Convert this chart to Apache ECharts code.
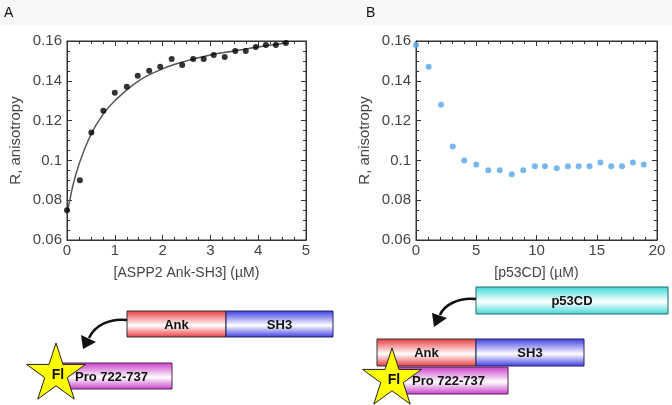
<!DOCTYPE html>
<html><head><meta charset="utf-8">
<script src="https://cdn.jsdelivr.net/npm/echarts@6/dist/echarts.min.js"></script>
<style>html,body{margin:0;padding:0;background:#fff}#c{width:672px;height:405px}</style>
</head><body><div id="c"></div><script>
// Panel A: titration with ASPP2 Ank-SH3
const ankConc = [0, 0.27, 0.51, 0.76, 1.0, 1.25, 1.48, 1.72, 1.95, 2.19, 2.41, 2.64, 2.86, 3.07, 3.3, 3.52, 3.74, 3.95, 4.16, 4.37, 4.58];
const ankAniso = [0.075, 0.090, 0.114, 0.125, 0.134, 0.137, 0.1425, 0.145, 0.147, 0.151, 0.148, 0.151, 0.151, 0.153, 0.152, 0.155, 0.155, 0.157, 0.158, 0.158, 0.159];
// Fitted curve
const fitConc = [0, 0.05, 0.12, 0.25, 0.5, 0.75, 1.0, 1.5, 2.0, 2.5, 3.0, 3.5, 4.0, 4.6];
const fitAniso = [0.073, 0.079, 0.087, 0.098, 0.113, 0.123, 0.130, 0.140, 0.146, 0.150, 0.153, 0.155, 0.157, 0.159];
// Panel B: displacement with p53CD
const p53Conc = [0, 1.05, 2.08, 3.05, 4.0, 5.0, 6.0, 6.95, 7.95, 8.9, 9.86, 10.7, 11.68, 12.6, 13.5, 14.4, 15.3, 16.2, 17.1, 18.0, 18.9];
const p53Aniso = [0.158, 0.147, 0.128, 0.107, 0.100, 0.098, 0.095, 0.095, 0.093, 0.095, 0.097, 0.097, 0.096, 0.097, 0.097, 0.097, 0.099, 0.097, 0.097, 0.099, 0.098];
const yTicks = {min: 0.06, max: 0.16, interval: 0.02};
const xTicksA = {min: 0, max: 5, interval: 1};
const xTicksB = {min: 0, max: 20, interval: 5};

const FONT = 'Liberation Sans';
const AX = '#333';
function xAx(g, pos, t, minorSplit, name, show) {
  return {type:'value', gridIndex:g, position:pos, offset:0, min:t.min, max:t.max, interval:t.interval, show:true,
    axisLine:{show:true, onZero:false, lineStyle:{color:AX, width:1}},
    axisTick:{show:true, inside:true, length:5, lineStyle:{color:AX}},
    minorTick:{show:true, splitNumber:minorSplit, length:3, lineStyle:{color:AX}},
    splitLine:{show:false}, minorSplitLine:{show:false},
    axisLabel:{show:show, color:'#444', fontSize:15, fontFamily:FONT, margin:3},
    name: show ? name : '', nameLocation:'middle', nameGap:26,
    nameTextStyle:{color:'#444', fontSize:14, fontFamily:FONT}};
}
function yAx(g, pos, show) {
  return {type:'value', gridIndex:g, position:pos, offset:0, min:yTicks.min, max:yTicks.max, interval:yTicks.interval, show:true,
    axisLine:{show:true, onZero:false, lineStyle:{color:AX, width:1}},
    axisTick:{show:true, inside:true, length:5, lineStyle:{color:AX}},
    minorTick:{show:true, splitNumber:4, length:3, lineStyle:{color:AX}},
    splitLine:{show:false}, minorSplitLine:{show:false},
    axisLabel:{show:show, color:'#444', fontSize:15, fontFamily:FONT, margin:5,
      formatter: v => String(+v.toFixed(2))},
    name: show ? 'R, anisotropy' : '', nameLocation:'middle', nameGap:44, nameRotate:90,
    nameTextStyle:{color:'#444', fontSize:15, fontFamily:FONT}};
}
function starPts(cx, cy, R) {
  const r = R * 0.382, pts = [];
  for (let i = 0; i < 10; i++) {
    const a = -Math.PI/2 + i*Math.PI/5, rr = i % 2 ? r : R;
    pts.push([cx + rr*Math.cos(a), cy + rr*Math.sin(a)]);
  }
  return pts;
}
function grad(c) {
  return new echarts.graphic.LinearGradient(0,0,0,1,[{offset:0,color:c},{offset:0.55,color:'#ffffff'},{offset:1,color:c}]);
}
function box(x, y, w, h, c, stroke, label, lx) {
  const els = [{type:'rect', shape:{x, y, width:w, height:h}, style:{fill:grad(c), stroke, lineWidth:1}, z:10}];
  if (label) els.push({type:'text', x: lx !== undefined ? lx : x + w/2, y: y + h/2 + 1,
    style:{text:label, font:'bold 13px ' + FONT, fill:'#111', align: lx !== undefined ? 'left' : 'center', verticalAlign:'middle'}, z:12});
  return els;
}
function star(cx, cy, R) {
  return [{type:'polygon', shape:{points:starPts(cx, cy, R)}, style:{fill:'#ffff00', stroke:'#222', lineWidth:1}, z:13},
          {type:'text', x:cx + 2, y:cy + 1, style:{text:'Fl', font:'bold 14px ' + FONT, fill:'#111', align:'center', verticalAlign:'middle'}, z:14}];
}
function arrow(x1, y1, c1x, c1y, c2x, c2y, x2, y2, head) {
  return [{type:'bezierCurve', shape:{x1, y1, cpx1:c1x, cpy1:c1y, cpx2:c2x, cpy2:c2y, x2, y2}, style:{stroke:'#111', lineWidth:2.5, fill:null}, z:10},
          {type:'polygon', shape:{points:head}, style:{fill:'#111'}, z:10}];
}

const graphics = [].concat(
  [{type:'rect', shape:{x:0, y:0, width:672, height:25}, style:{fill:'#f7f7f7'}, z:-10}],
  [{type:'text', x:4, y:6, style:{text:'A', font:'14px ' + FONT, fill:'#111'}}],
  [{type:'text', x:366, y:6, style:{text:'B', font:'14px ' + FONT, fill:'#111'}}],
  // Panel A diagram
  box(127, 311, 99, 26, '#e8383d', '#333', 'Ank'),
  box(226, 311, 107, 26, '#3a3ae0', '#222266', 'SH3'),
  arrow(127, 320, 110, 318, 95, 325, 89, 338, [[83,349],[81,335],[96,342]]),
  box(62, 363, 110, 26, '#c83cc8', '#552255', 'Pro 722-737', 75),
  star(56, 374, 31),
  // Panel B diagram
  box(476, 287, 192, 27, '#3cd8d8', '#226666', 'p53CD'),
  arrow(476, 299, 459, 297, 444, 305, 440, 315, [[434,327],[432,313],[447,318]]),
  box(377, 339, 99, 27, '#e8383d', '#333', 'Ank'),
  box(476, 339, 108, 27, '#3a3ae0', '#222266', 'SH3'),
  box(398, 367, 110, 27, '#c83cc8', '#552255', 'Pro 722-737', 412),
  star(392, 379, 31)
);

const chart = echarts.init(document.getElementById('c'), null, {renderer:'canvas'});
chart.setOption({
  animation:false,
  backgroundColor:'#ffffff',
  grid:[{left:67, top:41, width:239, height:199, show:true, borderColor:AX, borderWidth:1, backgroundColor:'transparent'},
        {left:416, top:41, width:241, height:199, show:true, borderColor:AX, borderWidth:1, backgroundColor:'transparent'}],
  xAxis:[xAx(0,'bottom',xTicksA,4,'[ASPP2 Ank-SH3] (\u00b5M)',true), xAx(0,'top',xTicksA,4,'',false),
         xAx(1,'bottom',xTicksB,5,'[p53CD] (\u00b5M)',true), xAx(1,'top',xTicksB,5,'',false)],
  yAxis:[yAx(0,'left',true), yAx(0,'right',false), yAx(1,'left',true), yAx(1,'right',false)],
  series:[
    {type:'line', xAxisIndex:0, yAxisIndex:0, data:fitConc.map((x,i)=>[x, fitAniso[i]]), smooth:0.4, showSymbol:false,
     lineStyle:{color:'#555', width:1.5}, z:2},
    {type:'scatter', xAxisIndex:0, yAxisIndex:0, data:ankConc.map((x,i)=>[x, ankAniso[i]]), symbolSize:6,
     itemStyle:{color:'#000'}, z:3},
    {type:'scatter', xAxisIndex:2, yAxisIndex:2, data:p53Conc.map((x,i)=>[x, p53Aniso[i]]), symbolSize:6,
     itemStyle:{color:'#55a5ea'}, z:3}
  ],
  graphic: graphics
});
</script></body></html>
